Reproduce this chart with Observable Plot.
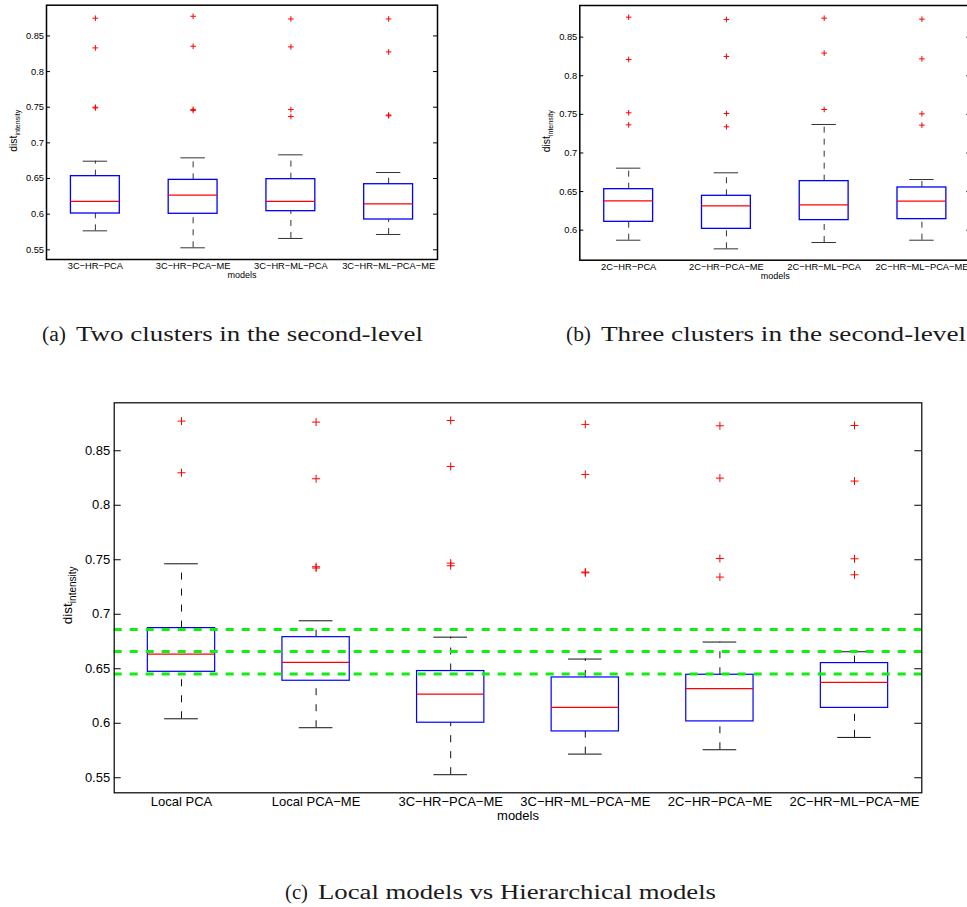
<!DOCTYPE html>
<html><head><meta charset="utf-8">
<script src="https://cdn.jsdelivr.net/npm/d3@7"></script>
<script src="https://cdn.jsdelivr.net/npm/@observablehq/plot@0.6"></script>
<style>
html,body{margin:0;padding:0;background:#fff;}
#page{position:relative;width:967px;height:907px;overflow:hidden;background:#fff;}
.panel{position:absolute;}
#captions{position:absolute;left:0;top:0;}
</style></head><body><div id="page"></div>
<script>
// ---------- Panel (a) ----------
const catsA = ["3C\u2212HR\u2212PCA", "3C\u2212HR\u2212PCA\u2212ME", "3C\u2212HR\u2212ML\u2212PCA", "3C\u2212HR\u2212ML\u2212PCA\u2212ME"];
const loA  = [0.5766, 0.5528, 0.5659, 0.5715];
const q1A  = [0.6009, 0.6005, 0.6042, 0.5925];
const medA = [0.6178, 0.6266, 0.6178, 0.6145];
const q3A  = [0.6533, 0.6481, 0.6491, 0.6420];
const hiA  = [0.6743, 0.6790, 0.6832, 0.6584];
const outA = [[0.8748, 0.8332, 0.7500, 0.7490], [0.8776, 0.8355, 0.7470, 0.7455], [0.8738, 0.8346, 0.7467, 0.7369], [0.8738, 0.8276, 0.7390, 0.7380]];
const yTicksA = [0.55, 0.6, 0.65, 0.7, 0.75, 0.8, 0.85];

// ---------- Panel (b) ----------
const catsB = ["2C\u2212HR\u2212PCA", "2C\u2212HR\u2212PCA\u2212ME", "2C\u2212HR\u2212ML\u2212PCA", "2C\u2212HR\u2212ML\u2212PCA\u2212ME"];
const loB  = [0.5870, 0.5758, 0.5840, 0.5870];
const q1B  = [0.6108, 0.6017, 0.6130, 0.6143];
const medB = [0.6380, 0.6315, 0.6328, 0.6376];
const q3B  = [0.6531, 0.6445, 0.6635, 0.6553];
const hiB  = [0.6803, 0.6743, 0.7369, 0.6656];
const outB = [[0.8759, 0.8211, 0.7520, 0.7364], [0.8729, 0.8250, 0.7511, 0.7339], [0.8746, 0.8293, 0.7563], [0.8733, 0.8219, 0.7507, 0.7360]];
const yTicksB = [0.6, 0.65, 0.7, 0.75, 0.8, 0.85];

// ---------- Panel (c) ----------
const catsC = ["Local PCA", "Local PCA\u2212ME", "3C\u2212HR\u2212PCA\u2212ME", "3C\u2212HR\u2212ML\u2212PCA\u2212ME", "2C\u2212HR\u2212PCA\u2212ME", "2C\u2212HR\u2212ML\u2212PCA\u2212ME"];
const loC  = [0.6041, 0.5959, 0.5528, 0.5717, 0.5757, 0.5870];
const q1C  = [0.6472, 0.6390, 0.6005, 0.5925, 0.6017, 0.6141];
const medC = [0.6635, 0.6558, 0.6268, 0.6145, 0.6317, 0.6375];
const q3C  = [0.6873, 0.6790, 0.6479, 0.6420, 0.6445, 0.6552];
const hiC  = [0.7463, 0.6940, 0.6790, 0.6589, 0.6745, 0.6656];
const outC = [[0.8772, 0.8298], [0.8763, 0.8243, 0.7436, 0.7424], [0.8778, 0.8356, 0.7469, 0.7445], [0.8742, 0.8283, 0.7387, 0.7380], [0.8729, 0.8249, 0.7512, 0.7341], [0.8732, 0.8222, 0.7509, 0.7362]];
const greenC = [0.6861, 0.6659, 0.6451];
const yTicksC = [0.55, 0.6, 0.65, 0.7, 0.75, 0.8, 0.85];

const xLabel = "models";
const yLabelMain = "dist";
const yLabelSub = "intensity";
const captionA = ["(a)", "Two clusters in the second-level"];
const captionB = ["(b)", "Three clusters in the second-level"];
const captionC = ["(c)", "Local models vs Hierarchical models"];

const plusSymbol = {
  draw(ctx, size) {
    const r = Math.sqrt(size / Math.PI);
    ctx.moveTo(-r, 0); ctx.lineTo(r, 0);
    ctx.moveTo(0, -r); ctx.lineTo(0, r);
  }
};
const fmt = d => String(+d.toFixed(2));

function boxPanel(cfg) {
  const n = cfg.cats.length;
  const rows = cfg.cats.map((c, i) => ({pos: i + 1, lo: cfg.lo[i], q1: cfg.q1[i], med: cfg.med[i], q3: cfg.q3[i], hi: cfg.hi[i]}));
  const outs = cfg.outs.flatMap((arr, i) => arr.map(v => ({pos: i + 1, v})));
  const innerW = cfg.width - cfg.ml - cfg.mr;
  const marks = [
    Plot.ruleX(rows, {x: "pos", y1: "q3", y2: "hi", stroke: cfg.wc, strokeDasharray: cfg.dash}),
    Plot.ruleX(rows, {x: "pos", y1: "lo", y2: "q1", stroke: cfg.wc, strokeDasharray: cfg.dash}),
    Plot.ruleY(rows, {y: "hi", x1: d => d.pos - 0.125, x2: d => d.pos + 0.125, stroke: cfg.wc}),
    Plot.ruleY(rows, {y: "lo", x1: d => d.pos - 0.125, x2: d => d.pos + 0.125, stroke: cfg.wc}),
    Plot.rect(rows, {x1: d => d.pos - 0.25, x2: d => d.pos + 0.25, y1: "q1", y2: "q3", fill: "none", stroke: "#0000ff", strokeWidth: cfg.bw}),
    Plot.ruleY(rows, {y: "med", x1: d => d.pos - 0.25, x2: d => d.pos + 0.25, stroke: "#ff0000", strokeWidth: cfg.bw}),
    Plot.dot(outs, {x: "pos", y: "v", symbol: plusSymbol, r: cfg.plusR, stroke: "#ff0000", fill: "none", strokeWidth: 1})
  ];
  if (cfg.green) marks.push(Plot.ruleY(cfg.green, {y: d => d, stroke: "#11ee11", strokeWidth: 3, strokeDasharray: "8,8"}));
  marks.push(
    Plot.ruleY(cfg.yTicks, {y: d => d, stroke: "#000", insetRight: innerW - cfg.tickLen}),
    Plot.ruleY(cfg.yTicks, {y: d => d, stroke: "#000", insetLeft: innerW - cfg.tickLen}),
    Plot.axisY({ticks: cfg.yTicks, anchor: "left", tickSize: 0, tickPadding: cfg.padY, tickFormat: fmt, label: null}),
    Plot.axisX({ticks: d3.range(1, n + 1), anchor: "bottom", tickSize: 0, tickPadding: cfg.padX, tickFormat: i => cfg.cats[i - 1], label: null}),
    Plot.text([xLabel], {text: d => d, frameAnchor: "bottom", lineAnchor: "top", dy: cfg.modelsDy, fontSize: cfg.fsModels}),
    Plot.frame({stroke: "#000", strokeWidth: cfg.fw})
  );
  const chart = Plot.plot({
    width: cfg.width, height: cfg.height,
    marginLeft: cfg.ml, marginRight: cfg.mr, marginTop: cfg.mt, marginBottom: cfg.mb,
    x: {type: "linear", domain: [0.5, n + 0.5]},
    y: {domain: cfg.domain},
    style: {fontFamily: "'Liberation Sans', Arial, sans-serif", fontSize: cfg.fs + "px", color: "#000", background: "transparent", maxWidth: "none", overflow: "visible"},
    marks
  });
  const svg = d3.select(chart);
  const cy = cfg.mt + (cfg.height - cfg.mt - cfg.mb) / 2 + cfg.labelShift;
  const t = svg.append("text")
    .attr("transform", `translate(${cfg.ml - cfg.labelOff},${cy}) rotate(-90)`)
    .attr("text-anchor", "middle")
    .attr("fill", "#000")
    .attr("font-size", cfg.fsLab);
  t.append("tspan").text(yLabelMain);
  t.append("tspan").attr("font-size", cfg.fsSub).attr("dy", cfg.subDy).text(yLabelSub);
  const wrap = document.createElement("div");
  wrap.className = "panel";
  wrap.style.left = cfg.left + "px";
  wrap.style.top = cfg.top + "px";
  wrap.style.width = cfg.width + "px";
  wrap.style.height = cfg.height + "px";
  wrap.appendChild(chart);
  document.getElementById("page").appendChild(wrap);
}

boxPanel({cats: catsA, lo: loA, q1: q1A, med: medA, q3: q3A, hi: hiA, outs: outA, yTicks: yTicksA,
  left: 0, top: 0, width: 480, height: 290, ml: 46, mr: 43, mt: 4.7, mb: 31,
  domain: [0.5364, 0.8931], fs: 9.3, fsModels: 9, fsLab: 10.5, fsSub: 7, subDy: 3.5,
  labelOff: 29.5, labelShift: -1, padX: 3, padY: 2.5, tickLen: 4, dash: "6,6", wc: "#333", plusR: 2.8, bw: 1.3, fw: 1.5, modelsDy: 12});

boxPanel({cats: catsB, lo: loB, q1: q1B, med: medB, q3: q3B, hi: hiB, outs: outB, yTicks: yTicksB,
  left: 480, top: 0, width: 520, height: 290, ml: 99.3, mr: 29.7, mt: 5, mb: 30.3,
  domain: [0.5611, 0.8910], fs: 9.3, fsModels: 9, fsLab: 10.5, fsSub: 7, subDy: 3.5,
  labelOff: 29.5, labelShift: -1, padX: 3, padY: 2.5, tickLen: 4, dash: "6,6", wc: "#333", plusR: 2.8, bw: 1.3, fw: 1.5, modelsDy: 12.5});

boxPanel({cats: catsC, lo: loC, q1: q1C, med: medC, q3: q3C, hi: hiC, outs: outC, yTicks: yTicksC, green: greenC,
  left: 0, top: 390, width: 967, height: 450, ml: 113.7, mr: 45.7, mt: 12.3, mb: 47.7,
  domain: [0.5362, 0.8940], fs: 13, fsModels: 13, fsLab: 13.5, fsSub: 10, subDy: 4.5,
  labelOff: 42, labelShift: -2, padX: 4, padY: 4, tickLen: 7, dash: "7,9", wc: "#111", plusR: 4, bw: 1.2, fw: 1.2, modelsDy: 18.4});

// ---------- captions ----------
const capSvg = d3.select("#page").append("svg")
  .attr("id", "captions").attr("width", 967).attr("height", 907);
function caption(parts, x0, x1, x2, y) {
  const g = capSvg.append("g").attr("font-family", "'Liberation Serif', 'Times New Roman', serif").attr("font-size", 20).attr("fill", "#1a1a1a");
  g.append("text").attr("x", x0).attr("y", y).attr("textLength", x1 - x0 - 10).attr("lengthAdjust", "spacingAndGlyphs").text(parts[0]);
  g.append("text").attr("x", x1).attr("y", y)
    .attr("textLength", x2 - x1).attr("lengthAdjust", "spacingAndGlyphs").text(parts[1]);
}
caption(captionA, 42, 76, 423, 341);
caption(captionB, 566, 601, 966, 341);
caption(captionC, 285, 318, 716, 899);
</script></body></html>
